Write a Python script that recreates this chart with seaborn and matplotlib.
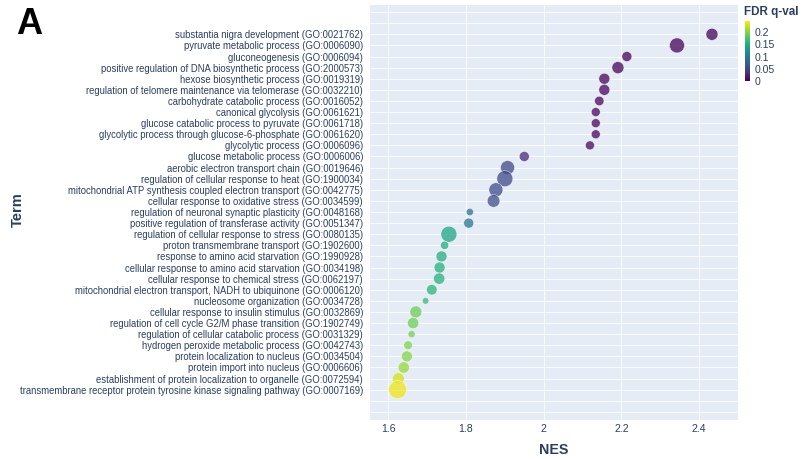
import numpy as np
import pandas as pd
import matplotlib
matplotlib.use("Agg")
import matplotlib.pyplot as plt
import seaborn as sns
from matplotlib.cm import ScalarMappable
from matplotlib.colors import Normalize

# GO biological process terms, top to bottom
terms = [
    "substantia nigra development (GO:0021762)",
    "pyruvate metabolic process (GO:0006090)",
    "gluconeogenesis (GO:0006094)",
    "positive regulation of DNA biosynthetic process (GO:2000573)",
    "hexose biosynthetic process (GO:0019319)",
    "regulation of telomere maintenance via telomerase (GO:0032210)",
    "carbohydrate catabolic process (GO:0016052)",
    "canonical glycolysis (GO:0061621)",
    "glucose catabolic process to pyruvate (GO:0061718)",
    "glycolytic process through glucose-6-phosphate (GO:0061620)",
    "glycolytic process (GO:0006096)",
    "glucose metabolic process (GO:0006006)",
    "aerobic electron transport chain (GO:0019646)",
    "regulation of cellular response to heat (GO:1900034)",
    "mitochondrial ATP synthesis coupled electron transport (GO:0042775)",
    "cellular response to oxidative stress (GO:0034599)",
    "regulation of neuronal synaptic plasticity (GO:0048168)",
    "positive regulation of transferase activity (GO:0051347)",
    "regulation of cellular response to stress (GO:0080135)",
    "proton transmembrane transport (GO:1902600)",
    "response to amino acid starvation (GO:1990928)",
    "cellular response to amino acid starvation (GO:0034198)",
    "cellular response to chemical stress (GO:0062197)",
    "mitochondrial electron transport, NADH to ubiquinone (GO:0006120)",
    "nucleosome organization (GO:0034728)",
    "cellular response to insulin stimulus (GO:0032869)",
    "regulation of cell cycle G2/M phase transition (GO:1902749)",
    "regulation of cellular catabolic process (GO:0031329)",
    "hydrogen peroxide metabolic process (GO:0042743)",
    "protein localization to nucleus (GO:0034504)",
    "protein import into nucleus (GO:0006606)",
    "establishment of protein localization to organelle (GO:0072594)",
    "transmembrane receptor protein tyrosine kinase signaling pathway (GO:0007169)",
]

# Normalized enrichment score
nes = [
    2.433, 2.343, 2.214, 2.191, 2.156, 2.156, 2.143, 2.134, 2.134, 2.134, 2.119,
    1.950, 1.907, 1.900, 1.877, 1.871, 1.810, 1.807, 1.756, 1.745, 1.737,
    1.732, 1.731, 1.712, 1.696, 1.671, 1.664, 1.660, 1.651, 1.648, 1.640,
    1.626, 1.624,
]

# FDR q-values
fdr = [
    0.002, 0.002, 0.003, 0.003, 0.004, 0.004, 0.004, 0.004, 0.004, 0.004, 0.005,
    0.027, 0.052, 0.055, 0.056, 0.058, 0.092, 0.095, 0.145, 0.150, 0.152,
    0.154, 0.155, 0.158, 0.165, 0.190, 0.192, 0.194, 0.198, 0.200, 0.206,
    0.228, 0.240,
]

# Leading-edge gene counts (marker area)
gene_count = [
    36, 56, 25, 36, 30, 30, 22, 20, 20, 20, 20,
    25, 49, 64, 49, 40, 13, 25, 64, 17, 30,
    30, 32, 28, 11, 36, 32, 13, 19, 30, 32,
    36, 81,
]

df = pd.DataFrame({"Term": terms, "NES": nes, "FDR": fdr, "Genes": gene_count})

fdr_min, fdr_max = 0.0, 0.245
count_max = max(gene_count)
px = 0.72  # points per pixel at 100 dpi
max_area = (18 * px) ** 2

sns.set_theme(style="white")
plt.rcParams["font.family"] = ["Liberation Sans", "DejaVu Sans"]

text_col = "#2a3f5f"
bg_col = "#e5ecf6"

fig = plt.figure(figsize=(8.05, 4.59), dpi=100)
ax = fig.add_axes([370 / 805, 1 - 420 / 459, 368 / 805, 415 / 459])
ax.set_facecolor(bg_col)

sns.scatterplot(
    data=df, x="NES", y="Term",
    hue="FDR", palette="viridis", hue_norm=(fdr_min, fdr_max),
    size="Genes", sizes=(0, max_area), size_norm=(0, count_max),
    alpha=0.75, edgecolor="white", linewidth=0.4,
    legend=False, ax=ax, zorder=3,
)

n = len(terms)
ax.set_xlim(1.553, 2.500)
ax.set_ylim(n - 1 + 2.73, -2.64)

# category gridlines run through the padded area too
yt = list(range(-2, n + 2))
ax.set_yticks(yt)
ax.set_yticklabels([terms[i] if 0 <= i < n else "" for i in yt])
ax.set_xticks([1.6, 1.8, 2.0, 2.2, 2.4])
ax.set_xticklabels(["1.6", "1.8", "2", "2.2", "2.4"])

ax.grid(True, color="white", linewidth=0.7, alpha=0.85)
ax.set_axisbelow(True)
for s in ax.spines.values():
    s.set_visible(False)
ax.tick_params(axis="y", length=0, pad=5, labelsize=6.85, labelcolor=text_col)
ax.tick_params(axis="x", length=0, pad=3, labelsize=7.6, labelcolor=text_col)

ax.set_xlabel("NES", fontsize=10.3, fontweight="bold", color=text_col, labelpad=6)
ax.set_ylabel("")
fig.text(18 / 805, 1 - 210 / 459, "Term", rotation=90, fontsize=10.5,
         fontweight="bold", color=text_col, ha="center", va="center")

fig.text(16 / 805, 1 - 24 / 459, "A", fontsize=26, fontweight="bold",
         color="black", ha="left", va="center")

# colorbar for FDR q-value
cax = fig.add_axes([745 / 805, 1 - 81 / 459, 5 / 805, 60 / 459])
sm = ScalarMappable(norm=Normalize(fdr_min, fdr_max), cmap="viridis")
cb = fig.colorbar(sm, cax=cax)
cb.outline.set_visible(False)
cb.set_ticks([0, 0.05, 0.1, 0.15, 0.2])
cb.set_ticklabels(["0", "0.05", "0.1", "0.15", "0.2"])
cax.tick_params(length=0, pad=3, labelsize=7.6, labelcolor=text_col)
fig.text(744 / 805, 1 - 12 / 459, "FDR q-val", fontsize=8.4, fontweight="bold",
         color=text_col, ha="left", va="center")

fig.savefig("out.png", dpi=100)
